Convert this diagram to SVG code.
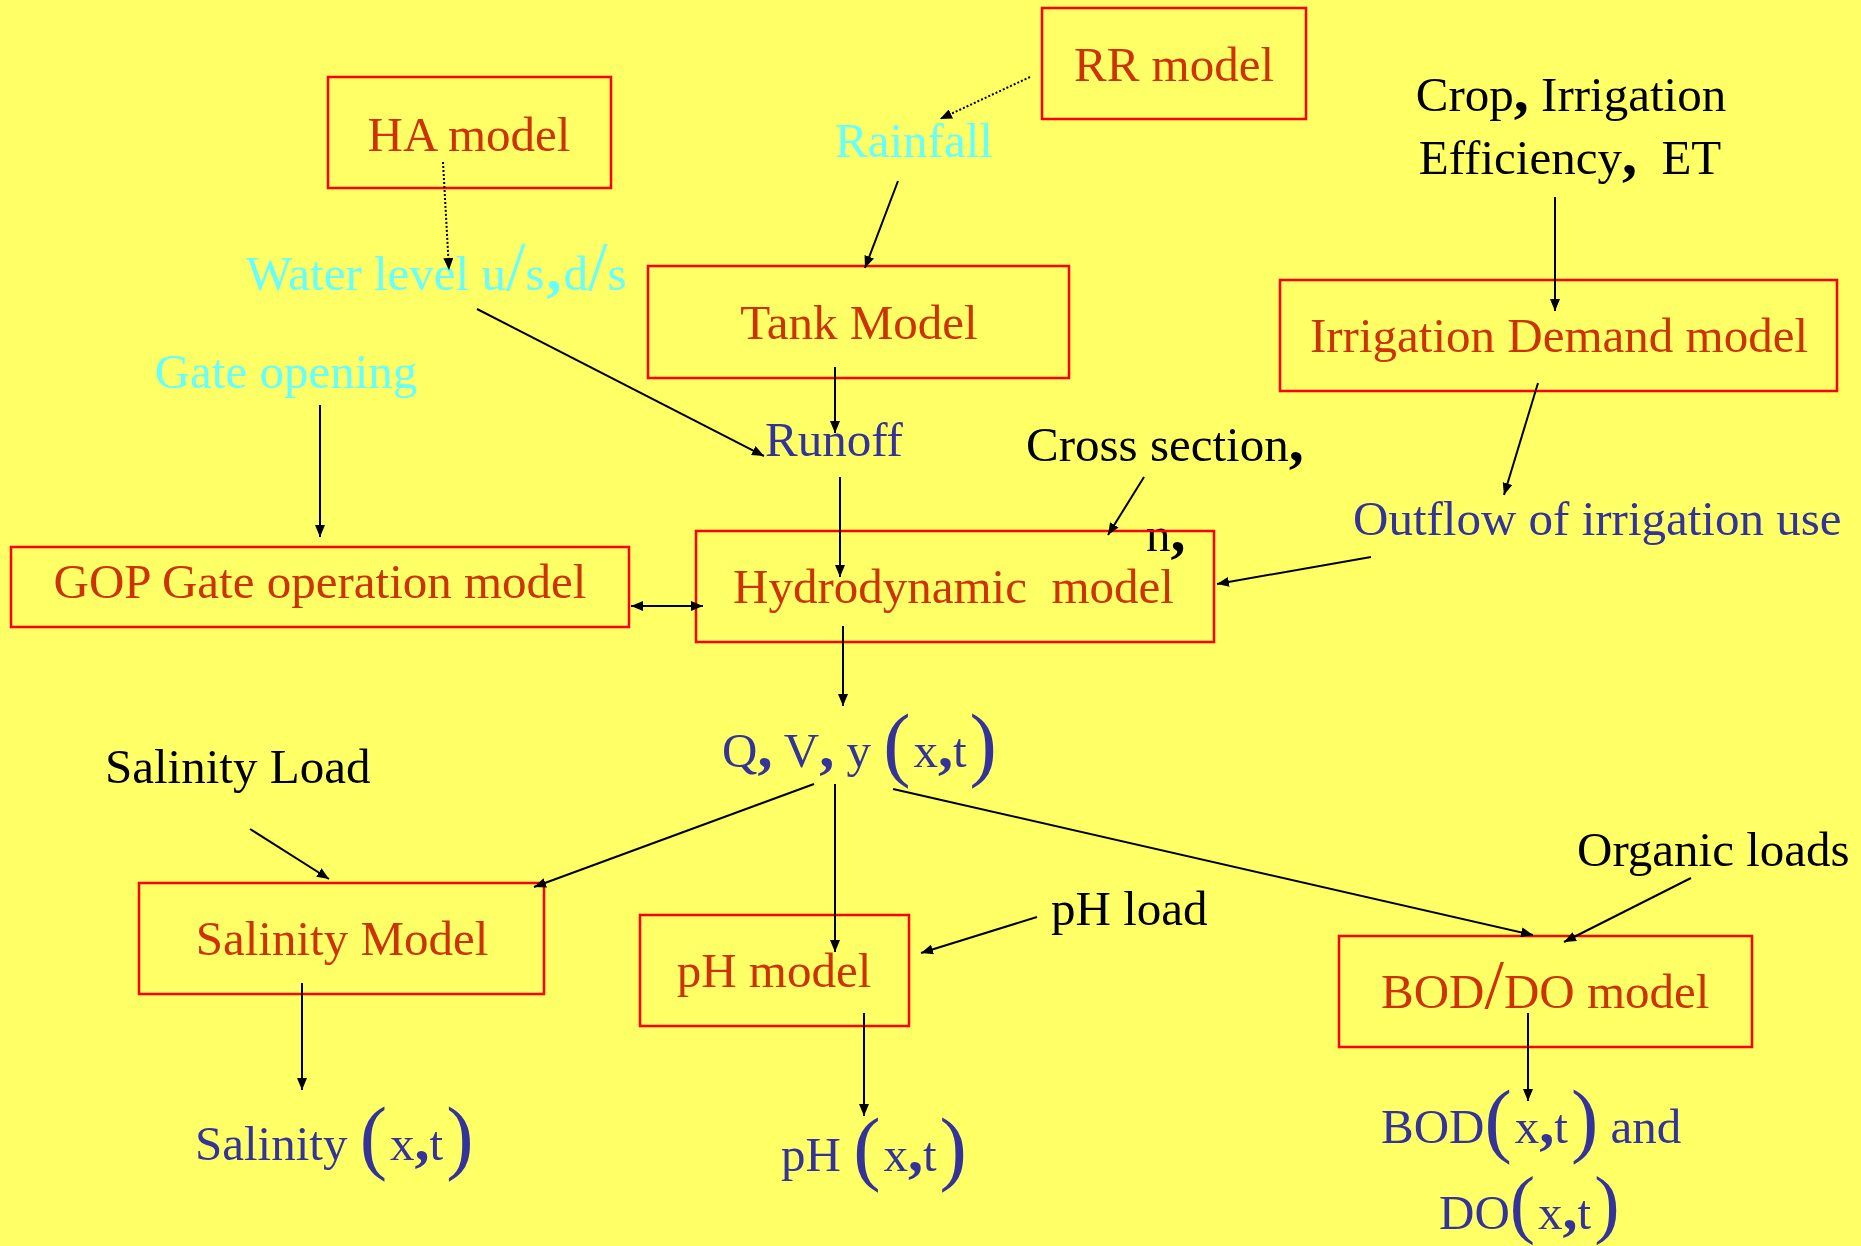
<svg xmlns="http://www.w3.org/2000/svg" width="1861" height="1246" viewBox="0 0 1861 1246">
<style>
text{font-family:"Liberation Serif","Times New Roman",serif;font-size:49px}
.box{fill:none;stroke:#FF0000;stroke-width:2.5}
.m{fill:#CC3300}
.b{fill:#333399}
.c{fill:#66FFFF}
.k{fill:#000}
.bc{font-weight:bold;font-size:60px}
.big{font-size:82px}
.big2{font-size:76px}
.sl{font-size:70px}
.ln{stroke:#000;stroke-width:2;fill:none}
.dt{stroke:#000;stroke-width:2;fill:none;stroke-dasharray:2 2}
</style>
<defs>
<marker id="ah" viewBox="0 0 12 10" refX="12" refY="5" markerWidth="12" markerHeight="10" markerUnits="userSpaceOnUse" orient="auto">
<path d="M0,0 L12,5 L0,10 z" fill="#000"/>
</marker>
<marker id="as" viewBox="0 0 12 10" refX="0" refY="5" markerWidth="12" markerHeight="10" markerUnits="userSpaceOnUse" orient="auto">
<path d="M12,0 L0,5 L12,10 z" fill="#000"/>
</marker>
</defs>
<rect width="1861" height="1246" fill="#FFFF66"/>

<g id="rr-model"><rect class="box" x="1042" y="8" width="264" height="111"/><text class="m" x="1174" y="81" text-anchor="middle">RR model</text></g>
<g id="ha-model"><rect class="box" x="328" y="77" width="283" height="111"/><text class="m" x="469" y="151" text-anchor="middle">HA model</text></g>
<g id="rainfall"><text class="c" x="914" y="157" text-anchor="middle">Rainfall</text></g>
<g id="water-level"><text class="c" x="246" y="290">Water level u<tspan class="sl">/</tspan>s<tspan class="bc" dx="2">,</tspan><tspan dx="2">d</tspan><tspan class="sl">/</tspan>s</text></g>
<g id="tank-model"><rect class="box" x="648" y="266" width="421" height="112"/><text class="m" x="859" y="339" text-anchor="middle">Tank Model</text></g>
<g id="crop"><text class="k" x="1571" y="111" text-anchor="middle">Crop<tspan class="bc">,</tspan> Irrigation</text><text class="k" x="1570" y="174" text-anchor="middle">Efficiency<tspan class="bc">,</tspan>&#160; ET</text></g>
<g id="irrigation-demand"><rect class="box" x="1280" y="280" width="557" height="111"/><text class="m" x="1559" y="352" text-anchor="middle">Irrigation Demand model</text></g>
<g id="gate-opening"><text class="c" x="286" y="388" text-anchor="middle">Gate opening</text></g>
<g id="runoff"><text class="b" x="765" y="456">Runoff</text></g>
<g id="cross-section"><text class="k" x="1026" y="461">Cross section<tspan class="bc">,</tspan></text><text class="k" x="1146" y="551">n<tspan class="bc">,</tspan></text></g>
<g id="outflow"><text class="b" x="1353" y="535">Outflow of irrigation use</text></g>
<g id="gop"><rect class="box" x="11" y="547" width="618" height="80"/><text class="m" x="320" y="598" text-anchor="middle">GOP Gate operation model</text></g>
<g id="hydrodynamic"><rect class="box" x="696" y="531" width="518" height="111"/><text class="m" x="733" y="603">Hydrodynamic&#160; model</text></g>
<g id="qvy"><text class="b" x="722" y="767">Q<tspan class="bc">,</tspan> V<tspan class="bc">,</tspan> y <tspan class="big" dy="4">(</tspan><tspan dx="3" dy="-4">x</tspan><tspan class="bc">,</tspan>t<tspan class="big" dx="3" dy="4">)</tspan></text></g>
<g id="salinity-load"><text class="k" x="105" y="783">Salinity Load</text></g>
<g id="salinity-model"><rect class="box" x="139" y="883" width="405" height="111"/><text class="m" x="342" y="955" text-anchor="middle">Salinity Model</text></g>
<g id="ph-model"><rect class="box" x="640" y="915" width="269" height="111"/><text class="m" x="774" y="987" text-anchor="middle">pH model</text></g>
<g id="ph-load"><text class="k" x="1051" y="925">pH load</text></g>
<g id="organic-loads"><text class="k" x="1577" y="866">Organic loads</text></g>
<g id="bod-do-model"><rect class="box" x="1339" y="936" width="413" height="111"/><text class="m" x="1381" y="1008">BOD<tspan class="sl">/</tspan>DO model</text></g>
<g id="salinity-xt"><text class="b" x="195" y="1160">Salinity <tspan class="big" dy="4">(</tspan><tspan dx="3" dy="-4">x</tspan><tspan class="bc">,</tspan>t<tspan class="big" dx="3" dy="4">)</tspan></text></g>
<g id="ph-xt"><text class="b" x="781" y="1171">pH <tspan class="big" dy="4">(</tspan><tspan dx="3" dy="-4">x</tspan><tspan class="bc">,</tspan>t<tspan class="big" dx="3" dy="4">)</tspan></text></g>
<g id="bod-do-xt"><text class="b" x="1381" y="1143">BOD<tspan class="big" dy="4">(</tspan><tspan dx="3" dy="-4">x</tspan><tspan class="bc">,</tspan>t<tspan class="big" dx="3" dy="4">)</tspan><tspan dy="-4"> and</tspan></text><text class="b" x="1439" y="1229">DO<tspan class="big2">(</tspan><tspan dx="3">x</tspan><tspan class="bc">,</tspan>t<tspan class="big2" dx="3">)</tspan></text></g>

<g id="connectors">
<line class="dt" x1="1030" y1="77" x2="940" y2="119" marker-end="url(#ah)"/>
<line class="dt" x1="443" y1="162" x2="449" y2="270" marker-end="url(#ah)"/>
<line class="ln" x1="898" y1="181" x2="865" y2="268" marker-end="url(#ah)"/>
<line class="ln" x1="477" y1="309" x2="764" y2="456" marker-end="url(#ah)"/>
<line class="ln" x1="835" y1="367" x2="835" y2="433" marker-end="url(#ah)"/>
<line class="ln" x1="840" y1="477" x2="840" y2="577" marker-end="url(#ah)"/>
<line class="ln" x1="320" y1="405" x2="320" y2="537" marker-end="url(#ah)"/>
<line class="ln" x1="631" y1="606" x2="703" y2="606" marker-start="url(#as)" marker-end="url(#ah)"/>
<line class="ln" x1="843" y1="626" x2="843" y2="706" marker-end="url(#ah)"/>
<line class="ln" x1="1555" y1="197" x2="1555" y2="311" marker-end="url(#ah)"/>
<line class="ln" x1="1538" y1="383" x2="1504" y2="495" marker-end="url(#ah)"/>
<line class="ln" x1="1144" y1="477" x2="1108" y2="535" marker-end="url(#ah)"/>
<line class="ln" x1="1371" y1="557" x2="1217" y2="584" marker-end="url(#ah)"/>
<line class="ln" x1="814" y1="784" x2="534" y2="887" marker-end="url(#ah)"/>
<line class="ln" x1="835" y1="784" x2="835" y2="952" marker-end="url(#ah)"/>
<line class="ln" x1="893" y1="789" x2="1533" y2="935" marker-end="url(#ah)"/>
<line class="ln" x1="250" y1="829" x2="329" y2="879" marker-end="url(#ah)"/>
<line class="ln" x1="1037" y1="917" x2="921" y2="953" marker-end="url(#ah)"/>
<line class="ln" x1="1691" y1="878" x2="1564" y2="942" marker-end="url(#ah)"/>
<line class="ln" x1="302" y1="983" x2="302" y2="1090" marker-end="url(#ah)"/>
<line class="ln" x1="864" y1="1013" x2="864" y2="1116" marker-end="url(#ah)"/>
<line class="ln" x1="1528" y1="1013" x2="1528" y2="1101" marker-end="url(#ah)"/>
</g>
</svg>
